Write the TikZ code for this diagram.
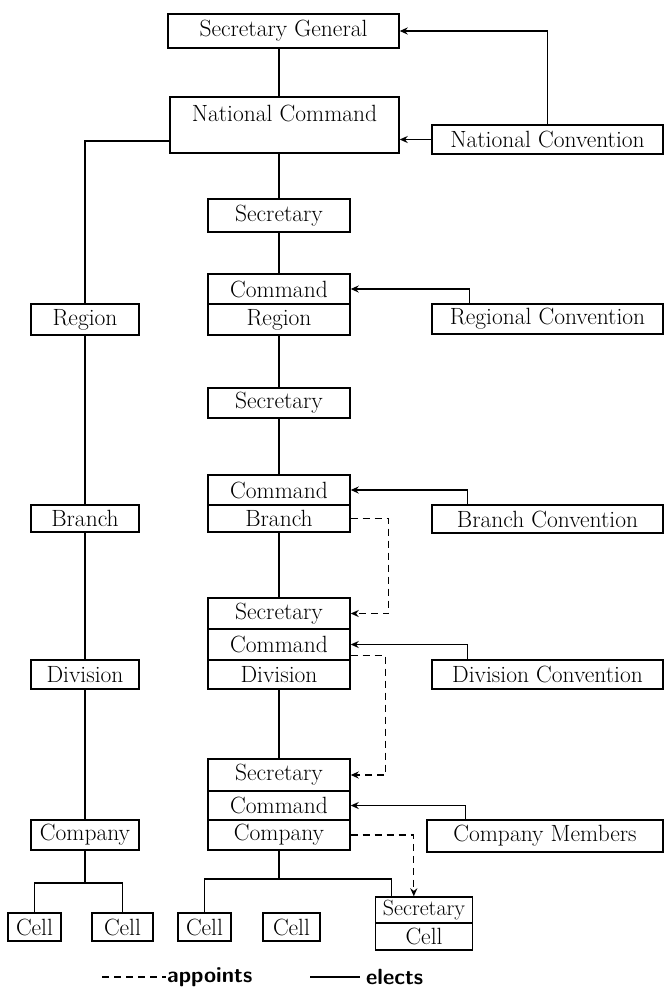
\documentclass[tikz,border=0pt]{standalone}
\usepackage{fontspec}
\usetikzlibrary{arrows.meta,calc}
\begin{document}
\begin{tikzpicture}[x=1pt,y=-1pt,
  bx/.style={draw, line width=1.4pt, inner sep=0pt, font=\fontsize{23.5}{25}\selectfont},
  ln/.style={line width=1.2pt},
  el/.style={line width=1.3pt, -{Stealth[length=8pt,width=7pt]}},
  ap/.style={line width=1.3pt, dash pattern=on 7pt off 5pt, -{Stealth[length=8pt,width=7pt]}},
  legtxt/.style={font=\fontsize{22}{24}\selectfont\sffamily\bfseries, inner sep=1pt, anchor=west}]
\useasboundingbox (0,0) rectangle (664,993);

% top
\node[bx, minimum width=231pt, minimum height=34pt] (secgen) at (283.5,31) {Secretary General};
\node[bx, minimum width=229pt, minimum height=56pt] (natcmd) at (284.5,125) {};
\node[font=\fontsize{23.5}{25}\selectfont, inner sep=0pt] (natcmdtxt) at (284.5,113) {National Command};
\node[bx, minimum width=231pt, minimum height=29pt] (natconv) at (547.5,139.5) {National Convention};

% middle column
\node[bx, minimum width=142pt, minimum height=33pt] (sec1) at (279,215.5) {Secretary};
\node[bx, minimum width=142pt, minimum height=30pt] (cmdR) at (279,289) {Command};
\node[bx, minimum width=142pt, minimum height=31pt] (regR) at (279,319.5) {Region};
\node[bx, minimum width=142pt, minimum height=30pt] (sec2) at (279,403) {Secretary};
\node[bx, minimum width=142pt, minimum height=30pt] (cmdB) at (279,490) {Command};
\node[bx, minimum width=142pt, minimum height=27pt] (brB) at (279,518.5) {Branch};
\node[bx, minimum width=142pt, minimum height=31pt] (sec3) at (279,613.5) {Secretary};
\node[bx, minimum width=142pt, minimum height=31pt] (cmdD) at (279,644.5) {Command};
\node[bx, minimum width=142pt, minimum height=29pt] (divD) at (279,674.5) {Division};
\node[bx, minimum width=142pt, minimum height=32pt] (sec4) at (279,775) {Secretary};
\node[bx, minimum width=142pt, minimum height=29pt] (cmdC) at (279,805.5) {Command};
\node[bx, minimum width=142pt, minimum height=30pt] (coC) at (279,835) {Company};

% left column
\node[bx, minimum width=108pt, minimum height=31pt] (regionL) at (85,319.5) {Region};
\node[bx, minimum width=108pt, minimum height=27pt] (branchL) at (85,518.5) {Branch};
\node[bx, minimum width=108pt, minimum height=29pt] (divisionL) at (85,674.5) {Division};
\node[bx, minimum width=108pt, minimum height=30pt] (companyL) at (85,835) {Company};

% right column
\node[bx, minimum width=231pt, minimum height=30pt] (regconv) at (547.5,319) {Regional Convention};
\node[bx, minimum width=231pt, minimum height=28pt] (brconv) at (547.5,519) {Branch Convention};
\node[bx, minimum width=231pt, minimum height=29pt] (divconv) at (547.5,674.5) {Division Convention};
\node[bx, minimum width=236pt, minimum height=32pt] (comem) at (545,836) {Company Members};

% cells
\node[bx, minimum width=53pt, minimum height=28pt] (cell1) at (34.5,927) {Cell};
\node[bx, minimum width=61pt, minimum height=28pt] (cell2) at (122.5,927) {Cell};
\node[bx, minimum width=53pt, minimum height=28pt] (cell3) at (204.5,927) {Cell};
\node[bx, minimum width=57pt, minimum height=28pt] (cell4) at (291.5,927) {Cell};
\node[bx, minimum width=97pt, minimum height=26pt, font=\fontsize{22}{24}\selectfont] (secCell) at (424,910) {Secretary};
\node[bx, minimum width=97pt, minimum height=27pt] (cellS) at (424,936.5) {Cell};

% elects (solid arrows)
\draw[el] (natconv.north) |- (secgen.east);
\draw[el] (natconv.west) -- (natconv.west -| natcmd.east);
\draw[el] ([xshift=38pt]regconv.north west) |- (cmdR.east);
\draw[el] ([xshift=36pt]brconv.north west) |- (cmdB.east);
\draw[el] ([xshift=36pt]divconv.north west) |- (cmdD.east);
\draw[el] ([xshift=39pt]comem.north west) |- (cmdC.east);

% hierarchy lines
\draw[ln] (secgen.south -| sec1.north) -- (natcmd.north -| sec1.north);
\draw[ln] (natcmd.south -| sec1.north) -- (sec1.north);
\draw[ln] (sec1.south) -- (cmdR.north);
\draw[ln] (regR.south) -- (sec2.north);
\draw[ln] (sec2.south) -- (cmdB.north);
\draw[ln] (brB.south) -- (sec3.north);
\draw[ln] (divD.south) -- (sec4.north);
\draw[ln] ([yshift=-16pt]natcmd.west) -| (regionL.north);
\draw[ln] (regionL.south) -- (branchL.north);
\draw[ln] (branchL.south) -- (divisionL.north);
\draw[ln] (divisionL.south) -- (companyL.north);

\coordinate (lbar) at (85,883);
\draw[ln] (companyL.south) -- (lbar);
\draw[ln] (cell1.north) |- (lbar) -| (cell2.north);
\coordinate (mbar) at (279,879);
\draw[ln] (coC.south) -- (mbar);
\draw[ln] (cell3.north) |- (mbar) -| ([xshift=17pt]secCell.north west);

% appoints (dashed arrows)
\draw[ap] (brB.east) -- ++(38pt,0) |- (sec3.east);
\draw[ap] ([yshift=-11pt]cmdD.east) -- ++(35pt,0) |- (sec4.east);
\draw[ap] (coC.east) -| ([xshift=39pt]secCell.north west);

% legend
\coordinate (la) at (102,977);
\coordinate (lb) at (166,977);
\draw[line width=1.3pt, dash pattern=on 7pt off 5pt] (la) -- (lb);
\node[legtxt] (appt) at (lb) {appoints};
\coordinate (lc) at (310,977);
\coordinate (ld) at (360,977);
\draw[line width=1.3pt] (lc) -- (ld);
\node[legtxt] (elec) at ([xshift=5pt]ld) {elects};
\end{tikzpicture}
\end{document}
